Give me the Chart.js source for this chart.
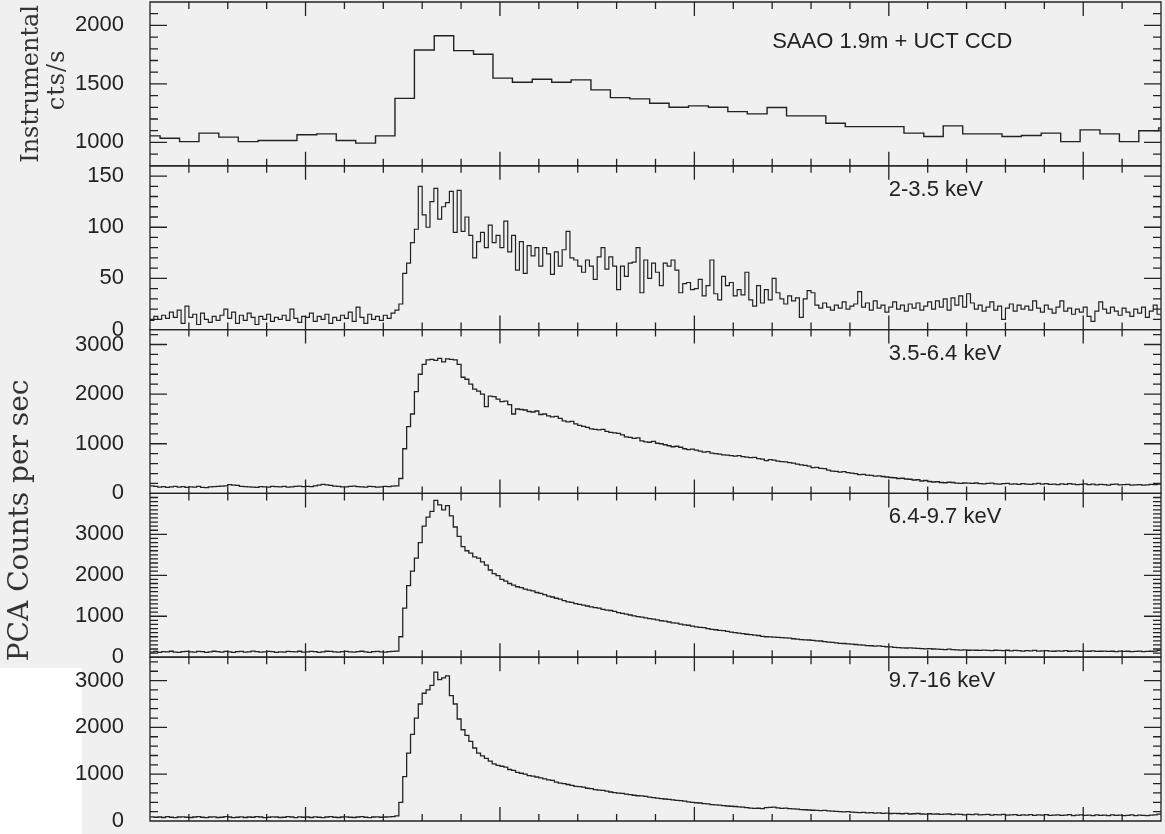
<!DOCTYPE html>
<html>
<head>
<meta charset="utf-8">
<title>Burst light curves</title>
<script src="https://cdn.jsdelivr.net/npm/chart.js@4.4.1/dist/chart.umd.min.js"></script>
<style>
  html, body { margin: 0; padding: 0; background: #ffffff; }
  #wrap { width: 1165px; height: 834px; }
</style>
</head>
<body>
<div id="wrap"><canvas id="burstChart" width="1165" height="834"></canvas></div>
<script>
// optical light curve (SAAO 1.9m), bin start times in s and rate in instrumental cts/s
var optStart = [0, 2.6, 7.6, 12.6, 17.7, 22.7, 27.8, 32.8, 37.8, 42.9, 47.9, 52.9, 58.0, 63.0, 68.0,
  73.1, 78.1, 83.2, 88.2, 93.2, 98.3, 103.3, 108.3, 113.4, 118.4, 123.4, 128.5, 133.5, 138.5, 143.6,
  148.6, 153.6, 158.7, 163.7, 168.8, 173.8, 178.8, 183.9, 188.9, 193.9, 199.0, 204.0, 209.0, 214.1,
  219.1, 224.1, 229.2, 234.2, 239.2, 244.3, 249.3, 254.3, 259.4];
var optRate = [1056, 1036, 1007, 1079, 1045, 1007, 1016, 1016, 1065, 1073, 1016, 994, 1056, 1376, 1790,
  1912, 1784, 1754, 1549, 1514, 1540, 1514, 1534, 1449, 1383, 1372, 1335, 1301, 1312, 1301,
  1263, 1244, 1298, 1227, 1227, 1164, 1135, 1135, 1135, 1079, 1050, 1141, 1073, 1073,
  1050, 1059, 1079, 1007, 1107, 1073, 1007, 1099, 1124];

// PCA light curves, 1 s bins starting at t = 0
var pcaBin = 1;
var pca2to35 = [9, 13, 10, 14, 11, 17, 12, 19, 6, 23, 12, 15, 5, 16, 10, 7, 13, 9, 14, 20,
  11, 17, 6, 14, 9, 16, 12, 5, 13, 10, 15, 8, 12, 10, 14, 9, 20, 11, 7, 13,
  12, 16, 8, 13, 10, 15, 6, 12, 9, 14, 11, 17, 8, 22, 12, 6, 15, 10, 13, 9,
  14, 11, 16, 19,
  25, 55, 65, 85, 98, 140, 112, 100, 125, 138, 108, 120, 124, 135, 95, 136, 96, 110, 92, 70,
  86, 95, 80, 102, 85, 92, 80, 106, 76, 92, 58, 86, 55, 82, 72, 80, 62, 80, 74, 54,
  76, 62, 78, 96, 70, 68, 62, 56, 68, 62, 49, 71, 80, 59, 71, 62, 39, 62, 52, 65,
  66, 80, 36, 68, 50, 65, 56, 43, 65, 62, 68, 58, 36, 45, 46, 39, 40, 49, 33, 43,
  68, 35, 29, 52, 43, 46, 33, 39, 34, 56, 29, 23, 43, 26, 39, 29, 50, 36,
  30, 25, 33, 28, 31, 12, 30, 38, 36, 24, 21, 26, 22, 19, 24, 21, 27, 20, 23, 25,
  37, 22, 26, 19, 28, 21, 24, 17, 22, 27, 20, 24, 18, 25, 21, 26, 19, 23, 27, 20,
  28, 22, 30, 19, 31, 24, 33, 22, 35, 26, 20, 24, 18, 22, 27, 19, 23, 10, 21, 25,
  18, 24, 20, 23, 19, 28, 21, 17, 24, 20, 16, 22, 28, 18, 21, 15, 20, 17, 22, 13,
  8, 18, 27, 20, 16, 22, 18, 14, 21, 17, 13, 20, 16, 22, 12, 18, 24, 15];
var pca35to64 = [150, 140, 125, 135, 120, 130, 140, 125, 135, 120,
  130, 125, 140, 120, 115, 130, 135, 140, 145, 150,
  175, 165, 160, 140, 135, 130, 125, 120, 135, 130,
  125, 140, 135, 130, 140, 125, 130, 140, 145, 135,
  140, 135, 150, 165, 180, 170, 160, 145, 140, 130,
  130, 140, 145, 135, 130, 125, 140, 135, 125, 130,
  140, 135, 145, 150, 300, 900, 1344, 1600, 2050, 2400,
  2600, 2690, 2700, 2680, 2720, 2650, 2710, 2700, 2690, 2600,
  2340, 2300, 2200, 2100, 2060, 2000, 1750, 1960, 1950, 1900,
  1850, 1860, 1790, 1600, 1700, 1690, 1680, 1650, 1640, 1660,
  1590, 1600, 1560, 1540, 1550, 1510, 1460, 1440, 1450, 1400,
  1370, 1350, 1330, 1300, 1290, 1280, 1290, 1250, 1230, 1220,
  1210, 1180, 1140, 1130, 1110, 1120, 1060, 1040, 1030, 1050,
  1010, 1000, 980, 960, 940, 950, 930, 900, 880, 890,
  870, 850, 830, 840, 810, 800, 790, 775, 770, 760,
  750, 760, 740, 730, 720, 725, 700, 690, 660, 680,
  670, 650, 640, 635, 620, 610, 590, 575, 565, 550,
  520, 525, 505, 500, 470, 450, 445, 430, 440, 420,
  410, 400, 380, 385, 370, 365, 350, 355, 340, 330,
  320, 315, 300, 305, 290, 285, 270, 275, 250, 260,
  240, 230, 235, 220, 215, 225, 220, 205, 200, 210,
  205, 200, 210, 195, 190, 200, 205, 190, 185, 195,
  200, 185, 190, 180, 195, 185, 180, 190, 200, 185,
  195, 180, 185, 175, 190, 180, 195, 185, 175, 180,
  190, 175, 185, 170, 180, 175, 165, 180, 185, 170,
  175, 180, 165, 170, 175, 165, 170, 180, 175, 185];
var pca64to97 = [125, 140, 120, 135, 130, 145, 125, 120, 135, 140,
  130, 125, 140, 135, 120, 130, 145, 135, 125, 140,
  130, 120, 135, 140, 125, 130, 150, 135, 125, 130,
  140, 135, 120, 130, 125, 140, 135, 130, 145, 125,
  130, 140, 135, 120, 130, 145, 140, 130, 125, 135,
  140, 130, 125, 135, 145, 130, 120, 135, 140, 130,
  125, 135, 140, 150, 500, 1200, 1750, 2100, 2420, 2800,
  3200, 3420, 3560, 3830, 3720, 3600, 3700, 3450, 3180, 2950,
  2700, 2600, 2540, 2450, 2420, 2330, 2250, 2130, 2040, 1990,
  1900, 1860, 1800, 1760, 1720, 1700, 1660, 1640, 1620, 1580,
  1560, 1530, 1490, 1470, 1440, 1420, 1380, 1350, 1340, 1310,
  1290, 1270, 1250, 1230, 1210, 1200, 1170, 1150, 1140, 1120,
  1090, 1070, 1050, 1030, 1010, 990, 980, 960, 940, 930,
  910, 890, 880, 860, 840, 830, 810, 790, 780, 760,
  740, 730, 720, 700, 680, 670, 655, 650, 630, 610,
  600, 590, 575, 560, 550, 540, 530, 510, 500, 495,
  490, 485, 480, 470, 465, 450, 440, 430, 425, 420,
  410, 400, 395, 380, 370, 360, 350, 340, 335, 325,
  320, 310, 300, 295, 285, 280, 270, 275, 265, 255,
  250, 240, 235, 230, 225, 230, 220, 215, 210, 205,
  210, 200, 195, 190, 185, 195, 185, 180, 175, 180,
  170, 175, 170, 165, 175, 165, 160, 170, 165, 160,
  170, 155, 165, 160, 150, 160, 155, 165, 150, 155,
  160, 150, 145, 155, 150, 160, 145, 150, 155, 140,
  150, 145, 155, 140, 145, 150, 140, 145, 135, 150,
  140, 145, 135, 140, 150, 135, 140, 145, 150, 165];
var pca97to16 = [90, 80, 85, 75, 95, 80, 70, 85, 90, 80,
  75, 85, 95, 80, 70, 85, 90, 75, 80, 95,
  85, 70, 80, 90, 75, 85, 80, 95, 85, 70,
  80, 90, 85, 75, 80, 95, 85, 70, 90, 80,
  85, 75, 90, 80, 70, 85, 95, 80, 75, 85,
  90, 80, 75, 85, 95, 80, 70, 85, 90, 80,
  85, 90, 95, 110, 400, 950, 1450, 1850, 2200, 2500,
  2730, 2800, 2900, 3180, 3020, 3060, 3100, 2680, 2500, 2180,
  1950, 1830, 1700, 1560, 1450, 1390, 1340, 1280, 1220, 1190,
  1170, 1150, 1100, 1080, 1040, 1020, 1000, 970, 960, 940,
  920, 900, 880, 870, 830, 810, 800, 780, 760, 740,
  735, 725, 700, 690, 670, 660, 655, 640, 620, 605,
  595, 590, 575, 565, 550, 540, 535, 525, 510, 500,
  490, 480, 470, 460, 450, 440, 435, 425, 410, 400,
  390, 385, 370, 365, 350, 345, 340, 330, 320, 315,
  310, 300, 295, 285, 275, 270, 272, 265, 285, 290,
  295, 280, 270, 275, 265, 260, 255, 245, 240, 235,
  230, 225, 220, 225, 215, 210, 205, 200, 195, 200,
  190, 185, 180, 185, 175, 180, 170, 175, 165, 170,
  160, 165, 160, 155, 165, 150, 155, 160, 150, 145,
  155, 145, 150, 140, 145, 150, 135, 145, 140, 130,
  140, 135, 145, 130, 135, 140, 125, 135, 130, 140,
  125, 130, 135, 120, 130, 125, 135, 120, 130, 125,
  135, 120, 125, 130, 120, 125, 135, 115, 125, 130,
  120, 125, 115, 130, 120, 125, 115, 130, 120, 125,
  115, 120, 130, 115, 125, 120, 115, 125, 130, 145];

// axes
var timeRange = [0, 260];
var timeMinorStep = 10;
var timeMajorTicks = [40, 90, 140, 190, 240];
var panelIds = ['y1', 'y2', 'y3', 'y4', 'y5'];
var panelRanges = [[800, 2200], [0, 160], [0, 3300], [0, 4000], [0, 3500]];
var panelTicks = [[1000, 1500, 2000], [0, 50, 100, 150], [0, 1000, 2000, 3000], [0, 1000, 2000, 3000], [0, 1000, 2000, 3000]];
var panelMinorStep = [100, 10, 200, 100, 200];
var bandLabels = ['SAAO 1.9m + UCT CCD', '2-3.5 keV', '3.5-6.4 keV', '6.4-9.7 keV', '9.7-16 keV'];
var bandLabelTime = [160, 190, 190, 190, 190];

var INK = '#222222';
var PAPER = '#f0f0f0';
var SANS = '"Liberation Sans", Arial, Helvetica, sans-serif';
var SERIF = '"DejaVu Serif", "Liberation Serif", serif';

// build stepped points from equal-width bins, closing the last bin at its right edge
function binPoints(values, width) {
  var pts = values.map(function(v, i) { return {x: i * width, y: v}; });
  pts.push({x: values.length * width, y: values[values.length - 1]});
  return pts;
}

var optPoints = optStart.map(function(t, i) { return {x: t, y: optRate[i]}; });
optPoints.push({x: timeRange[1], y: optRate[optRate.length - 1]});

function curve(points, axisId, width) {
  return {
    data: points,
    yAxisID: axisId,
    stepped: 'before',
    borderColor: INK,
    borderWidth: width,
    pointRadius: 0,
    fill: false,
    tension: 0
  };
}

function panelAxis(p) {
  return {
    type: 'linear',
    position: 'left',
    stack: 'panels',
    stackWeight: 1,
    min: panelRanges[p][0],
    max: panelRanges[p][1],
    grid: { display: false },
    border: { display: false },
    ticks: {
      padding: 18,
      autoSkip: false,
      color: INK,
      font: { family: SANS, size: 22 },
      callback: function(v) { return String(v); }
    },
    afterBuildTicks: function(scale) {
      scale.ticks = panelTicks[p].map(function(v) { return {value: v}; });
    },
    afterFit: function(scale) {
      scale.width = 150;
      scale.paddingTop = 0;
      scale.paddingBottom = 0;
    }
  };
}

// scales listed bottom panel first: the last left axis of a stack ends up on top
var scales = {
  x: { type: 'linear', min: timeRange[0], max: timeRange[1], display: false }
};
for (var p = panelIds.length - 1; p >= 0; p--) {
  scales[panelIds[p]] = panelAxis(p);
}

var paperBackground = {
  id: 'paperBackground',
  beforeDraw: function(chart) {
    var ctx = chart.ctx;
    ctx.save();
    ctx.fillStyle = PAPER;
    ctx.fillRect(0, 0, chart.width, chart.height);
    ctx.fillStyle = '#ffffff';
    ctx.fillRect(0, 668, 82, chart.height - 668);
    ctx.restore();
  }
};

// frames and inward tick marks for every panel
var panelFrames = {
  id: 'panelFrames',
  afterDatasetsDraw: function(chart) {
    var ctx = chart.ctx, area = chart.chartArea, xs = chart.scales.x;
    ctx.save();
    ctx.strokeStyle = INK;
    ctx.lineWidth = 1.3;
    panelIds.forEach(function(id, p) {
      var ys = chart.scales[id];
      var top = ys.top, bottom = ys.bottom;
      ctx.beginPath();
      ctx.rect(area.left, top, area.right - area.left, bottom - top);
      for (var t = timeRange[0] + timeMinorStep; t < timeRange[1]; t += timeMinorStep) {
        var px = xs.getPixelForValue(t);
        var len = timeMajorTicks.indexOf(t) >= 0 ? 14 : 7;
        ctx.moveTo(px, bottom); ctx.lineTo(px, bottom - len);
        ctx.moveTo(px, top); ctx.lineTo(px, top + len);
      }
      var step = panelMinorStep[p];
      for (var v = Math.ceil(ys.min / step) * step; v <= ys.max; v += step) {
        if (v === ys.min || v === ys.max) continue;
        var py = ys.getPixelForValue(v);
        var l = panelTicks[p].indexOf(v) >= 0 ? 17 : 8;
        ctx.moveTo(area.left, py); ctx.lineTo(area.left + l, py);
        ctx.moveTo(area.right, py); ctx.lineTo(area.right - l, py);
      }
      ctx.stroke();
    });
    ctx.restore();
  }
};

function drawVertical(ctx, text, x, y, font, spacing) {
  ctx.save();
  ctx.translate(x, y);
  ctx.rotate(-Math.PI / 2);
  ctx.font = font;
  ctx.letterSpacing = spacing || '0px';
  ctx.textAlign = 'center';
  ctx.textBaseline = 'middle';
  ctx.fillText(text, 0, 0);
  ctx.restore();
}

var panelText = {
  id: 'panelText',
  afterDraw: function(chart) {
    var ctx = chart.ctx, xs = chart.scales.x;
    ctx.save();
    ctx.fillStyle = INK;
    ctx.font = '22px ' + SANS;
    ctx.textBaseline = 'middle';
    panelIds.forEach(function(id, p) {
      var ys = chart.scales[id];
      ctx.fillText(bandLabels[p], xs.getPixelForValue(bandLabelTime[p]), ys.top + (p === 0 ? 40 : 24));
    });
    ctx.fillStyle = '#333333';
    var top = chart.scales.y1;
    var mid = (top.top + top.bottom) / 2;
    drawVertical(ctx, 'Instrumental', 32, mid, '24px ' + SERIF);
    drawVertical(ctx, 'cts/s', 58, mid - 4, '24px ' + SERIF, '1px');
    drawVertical(ctx, 'PCA Counts per sec', 21, chart.scales.y4.top + 27, '28px ' + SERIF);
    ctx.restore();
  }
};

new Chart(document.getElementById('burstChart'), {
  type: 'line',
  data: {
    datasets: [
      curve(optPoints, 'y1', 1.4),
      curve(binPoints(pca2to35, pcaBin), 'y2', 1.2),
      curve(binPoints(pca35to64, pcaBin), 'y3', 1.3),
      curve(binPoints(pca64to97, pcaBin), 'y4', 1.3),
      curve(binPoints(pca97to16, pcaBin), 'y5', 1.3)
    ]
  },
  options: {
    responsive: false,
    animation: false,
    events: [],
    layout: { padding: { top: 2, right: 4, bottom: 13, left: 0 } },
    plugins: { legend: { display: false }, tooltip: { enabled: false } },
    scales: scales
  },
  plugins: [paperBackground, panelFrames, panelText]
});
</script>
</body>
</html>
